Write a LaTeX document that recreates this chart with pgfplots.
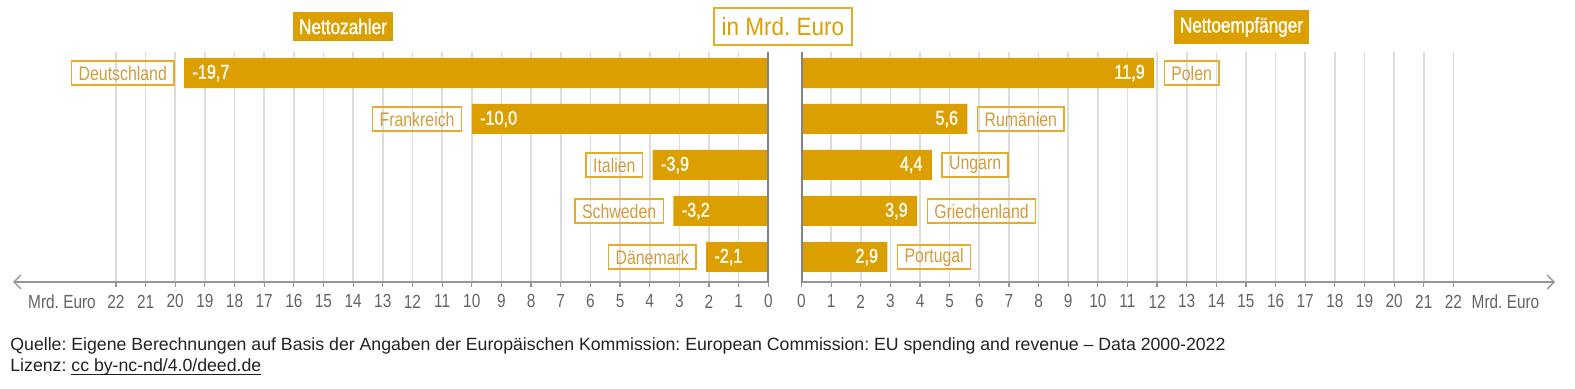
\documentclass[border=0pt]{standalone}
\usepackage{fontspec}
\setmainfont{Liberation Sans}
\newfontfamily\cond[FakeStretch=0.81]{Liberation Sans}
\newfontfamily\condm[FakeStretch=0.81, FakeBold=1.2]{Liberation Sans}
\newfontfamily\condt[FakeStretch=0.9]{Liberation Sans}
\usepackage{pgfplots}
\pgfplotsset{compat=1.18}
\usepackage{pgfplotstable}
\usetikzlibrary{arrows.meta}
\frenchspacing
\newsavebox\ulbox
\newcommand\myul[1]{\sbox\ulbox{#1}\rlap{\rule[-1.6bp]{\wd\ulbox}{0.55bp}}\usebox\ulbox}
\definecolor{gold}{RGB}{219,160,0}
\definecolor{lbltext}{RGB}{210,155,60}
\definecolor{lblborder}{RGB}{228,172,40}
\definecolor{gridc}{RGB}{221,221,221}
\definecolor{zeroc}{RGB}{130,130,130}
\definecolor{axc}{RGB}{150,150,150}
\definecolor{tickc}{RGB}{100,100,100}
\definecolor{foot}{RGB}{34,34,34}

\pgfplotstableread{
v i lab name
-19.7 1 -19,7 Deutschland
-10.0 2 -10,0 Frankreich
-3.9 3 -3,9 Italien
-3.2 4 -3,2 Schweden
-2.1 5 -2,1 Dänemark
}\leftdata

\pgfplotstableread{
v i lab name
11.9 1 11,9 Polen
5.6 2 5,6 Rumänien
4.4 3 4,4 Ungarn
3.9 4 3,9 Griechenland
2.9 5 2,9 Portugal
}\rightdata

\tikzset{
 vallbl/.style={font=\condm\fontsize{10bp}{11bp}\selectfont, text=white, inner sep=0pt},
 namelbl/.style={font=\cond\fontsize{9.8bp}{11bp}\selectfont, text=lbltext, draw=lblborder, line width=0.7bp, inner xsep=3.5bp, inner ysep=0pt, minimum height=12bp},
}
\pgfplotsset{
 panel/.style={
  scale only axis, height=115bp,
  y dir=reverse, ymin=0.5435, ymax=5.5435,
  axis y line=none,
  axis x line*=bottom,
  xmajorgrids, grid style={gridc, line width=0.8bp},
  major tick length=2.5bp, tick align=outside,
  tick style={axc, line width=0.6bp},
  xticklabel style={font=\cond\fontsize{9.5bp}{11bp}\selectfont, text=tickc, anchor=center, yshift=-7.2bp},
  /pgf/number format/assume math mode=true,
  clip=false,
 },
}

\begin{document}
\begin{tikzpicture}[x=0.5bp, y=-0.5bp]
\useasboundingbox (0,0) rectangle (1575,389);
\coordinate (LA) at (13,282);
\coordinate (RA) at (801.5,282);

% left panel
\begin{axis}[panel, at={(LA)}, anchor=south west, width=377.65bp,
  xmin=-25.47, xmax=0,
  xtick={-22,-21,-20,-19,-18,-17,-16,-15,-14,-13,-12,-11,-10,-9,-8,-7,-6,-5,-4,-3,-2,-1,0},
  xticklabels={22,21,20,19,18,17,16,15,14,13,12,11,10,9,8,7,6,5,4,3,2,1,0},
  x axis line style={axc, line width=0.7bp, {Straight Barb[length=3.5bp,width=7bp]}-}]
\addplot[xbar, bar width=15bp, fill=gold, draw=none,
  nodes near coords, point meta=explicit symbolic,
  nodes near coords style={vallbl, anchor=west, xshift=4bp}]
  table[x=v, y=i, meta=lab]{\leftdata};
\addplot[draw=none, mark=none,
  nodes near coords, point meta=explicit symbolic,
  nodes near coords style={namelbl, anchor=east, xshift=-4.75bp}]
  table[x=v, y=i, meta=name]{\leftdata};
\draw[zeroc, line width=1bp] (axis cs:0,0.5435) -- (axis cs:0,5.5435);
\end{axis}

% right panel
\begin{axis}[panel, at={(RA)}, anchor=south west, width=376.75bp,
  xmin=0, xmax=25.43,
  xtick={0,1,2,3,4,5,6,7,8,9,10,11,12,13,14,15,16,17,18,19,20,21,22},
  x axis line style={axc, line width=0.7bp, -{Straight Barb[length=3.5bp,width=7bp]}}]
\addplot[xbar, bar width=15bp, fill=gold, draw=none,
  nodes near coords, point meta=explicit symbolic,
  nodes near coords style={vallbl, anchor=east, xshift=-4.5bp}]
  table[x=v, y=i, meta=lab]{\rightdata};
\addplot[draw=none, mark=none,
  nodes near coords, point meta=explicit symbolic,
  nodes near coords style={namelbl, anchor=west, xshift=4.75bp}]
  table[x=v, y=i, meta=name]{\rightdata};
\draw[zeroc, line width=1bp] (axis cs:0,0.5435) -- (axis cs:0,5.5435);
\end{axis}

% axis unit labels
\node[font=\cond\fontsize{9.5bp}{11bp}\selectfont, text=tickc] at (62,302) {Mrd. Euro};
\node[font=\cond\fontsize{9.5bp}{11bp}\selectfont, text=tickc] at (1505.5,302) {Mrd. Euro};

% titles
\node[fill=gold, text=white, font=\condm\fontsize{10.6bp}{12bp}\selectfont, minimum height=14.5bp, inner xsep=3bp] at (343,26.5) {Nettozahler};
\node[fill=white, draw=lblborder, line width=0.8bp, text=gold, font=\condt\fontsize{12.5bp}{14bp}\selectfont, minimum height=18.5bp, inner xsep=4bp] at (783,26.5) {in Mrd. Euro};
\node[fill=gold, text=white, font=\condm\fontsize{10.6bp}{12bp}\selectfont, minimum height=14.5bp, inner xsep=3bp] at (1241.5,27) {Nettoempfänger};

% footer
\node[anchor=west, inner sep=0pt, text=foot, font=\fontsize{8.85bp}{10bp}\selectfont] at (10,346) {Quelle: Eigene Berechnungen auf Basis der Angaben der Europäischen Kommission: European Commission: EU spending and revenue – Data 2000-2022};
\node[anchor=west, inner sep=0pt, text=foot, font=\fontsize{8.85bp}{10bp}\selectfont] at (10,367) {Lizenz: \myul{cc by-nc-nd/4.0/deed.de}};
\end{tikzpicture}
\end{document}
